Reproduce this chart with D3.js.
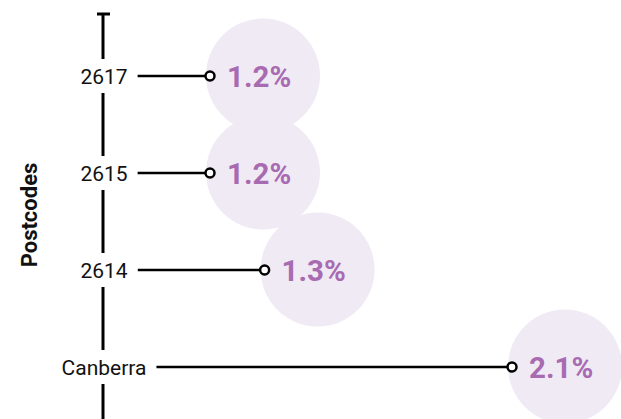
<!DOCTYPE html>
<html>
<head>
<meta charset="utf-8">
<script src="https://cdn.jsdelivr.net/npm/d3@7"></script>
<style>
  html, body { margin: 0; padding: 0; background: #fff; }
  svg { display: block; font-family: Roboto, "Noto Sans", sans-serif; }
</style>
</head>
<body>
<svg id="chart" width="621" height="419"></svg>
<script>
// Postcode areas and their percentage change
const categories = ["2617", "2615", "2614", "Canberra"];
const values = [1.16, 1.16, 1.33, 2.1];
const axisTitle = "Postcodes";

const data = categories.map((c, i) => ({ name: c, value: values[i] }));

const svg = d3.select("#chart");
const axisX = 103;

const y = d3.scalePoint().domain(categories).range([76, 367]);
const x = d3.scaleLinear()
  .domain([d3.min(values), d3.max(values)])
  .range([210, 512]);

const fmt = v => d3.format(".1f")(v) + "%";

// Lavender bubbles behind value labels
svg.append("g").selectAll("circle")
  .data(data)
  .join("circle")
  .attr("cx", d => x(d.value) + 53)
  .attr("cy", d => y(d.name) - 0.5)
  .attr("r", 57)
  .attr("fill", "#f0eaf4");

// Vertical axis with cap at the top
svg.append("line")
  .attr("x1", axisX).attr("x2", axisX)
  .attr("y1", 13).attr("y2", 440)
  .attr("stroke", "#000").attr("stroke-width", 3);
svg.append("line")
  .attr("x1", axisX - 6).attr("x2", axisX + 7)
  .attr("y1", 14).attr("y2", 14)
  .attr("stroke", "#000").attr("stroke-width", 3);

// Category labels sitting on the axis
const rows = svg.append("g").selectAll("g")
  .data(data)
  .join("g")
  .attr("transform", d => `translate(0,${y(d.name)})`);

const labels = rows.append("text")
  .attr("x", axisX + 1)
  .attr("dy", "0.36em")
  .attr("text-anchor", "middle")
  .attr("font-size", 21)
  .attr("fill", "#111")
  .text(d => d.name);

labels.each(function (d) {
  const bb = this.getBBox();
  d.labelEnd = bb.x + bb.width;
  d3.select(this.parentNode).insert("rect", "text")
    .attr("x", bb.x - 2)
    .attr("y", -17)
    .attr("width", bb.width + 4)
    .attr("height", 34)
    .attr("fill", "#fff");
});

// Stems from label to dot
rows.append("line")
  .attr("x1", d => d.labelEnd + 10)
  .attr("x2", d => x(d.value) - 5)
  .attr("y1", 0).attr("y2", 0)
  .attr("stroke", "#000").attr("stroke-width", 2.5);

rows.append("circle")
  .attr("cx", d => x(d.value))
  .attr("cy", 0)
  .attr("r", 4.5)
  .attr("fill", "#fff")
  .attr("stroke", "#000")
  .attr("stroke-width", 2.5);

rows.append("text")
  .attr("x", d => x(d.value) + 17)
  .attr("dy", "0.36em")
  .attr("font-size", 29.5)
  .attr("font-weight", 700)
  .attr("fill", "#a86bb2")
  .text(d => fmt(d.value));

// Axis title
svg.append("text")
  .attr("transform", "translate(37,215) rotate(-90)")
  .attr("text-anchor", "middle")
  .attr("font-size", 22)
  .attr("font-weight", 700)
  .attr("fill", "#111")
  .text(axisTitle);
</script>
</body>
</html>
